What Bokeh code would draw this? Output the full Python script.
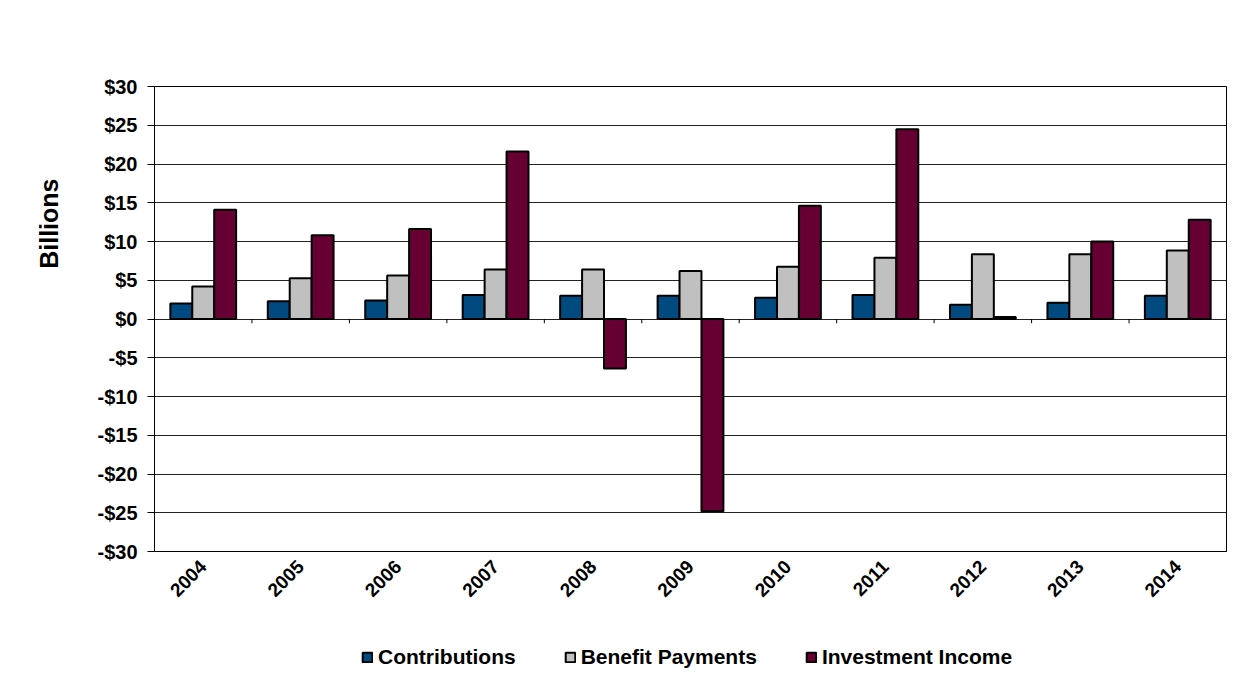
import math
from bokeh.plotting import figure
from bokeh.layouts import column
from bokeh.models import (ColumnDataSource, FactorRange, Range1d, FixedTicker,
                          CustomJSTickFormatter, Legend, LegendItem, Title)
from bokeh.transform import dodge
from bokeh.embed import file_html
from bokeh.resources import INLINE

years = ["2004", "2005", "2006", "2007", "2008", "2009", "2010", "2011", "2012", "2013", "2014"]
contributions = [2.0, 2.3, 2.4, 3.1, 3.0, 3.0, 2.75, 3.1, 1.85, 2.1, 3.0]
benefit_payments = [4.2, 5.25, 5.6, 6.4, 6.4, 6.2, 6.75, 7.9, 8.35, 8.35, 8.85]
investment_income = [14.1, 10.8, 11.6, 21.6, -6.4, -24.8, 14.6, 24.5, 0.25, 10.0, 12.8]
series_names = ["Contributions", "Benefit Payments", "Investment Income"]
series_colors = ["#004A7F", "#C0C0C0", "#660033"]
y_ticks = [-30, -25, -20, -15, -10, -5, 0, 5, 10, 15, 20, 25, 30]

FONT = "Liberation Sans"

src = ColumnDataSource(dict(year=years, c=contributions, b=benefit_payments,
                            i=investment_income, zero=[0] * len(years)))

p = figure(width=1236, height=640, x_range=FactorRange(*years, range_padding=0),
           y_range=Range1d(-30, 30), output_backend="svg", toolbar_location=None,
           min_border_left=154, min_border_top=86, min_border_right=10, min_border_bottom=89,
           background_fill_color="white", border_fill_color="white")

bw = 0.225
for off, col, color in zip([-bw, 0.0, bw], ["c", "b", "i"], series_colors):
    p.vbar(x=dodge("year", off, range=p.x_range), top=col, bottom="zero", width=bw, source=src,
           fill_color=color, line_color="black", line_width=2)

# tick marks on the zero line between categories
tsrc = ColumnDataSource(dict(year=years[:-1], y0=[0] * (len(years) - 1), y1=[-0.55] * (len(years) - 1)))
p.segment(x0=dodge("year", 0.5, range=p.x_range), y0="y0", x1=dodge("year", 0.5, range=p.x_range),
          y1="y1", source=tsrc, line_color="black", line_width=1)

p.outline_line_color = "black"
p.outline_line_width = 1
p.xgrid.grid_line_color = None
p.ygrid.grid_line_color = "#222222"
p.ygrid.grid_line_width = 1
p.ygrid.ticker = FixedTicker(ticks=y_ticks)

p.yaxis.ticker = FixedTicker(ticks=y_ticks)
p.yaxis.formatter = CustomJSTickFormatter(code="return (tick < 0 ? '-$' : '$') + Math.abs(tick);")
p.yaxis.major_label_text_font = FONT
p.yaxis.major_label_text_font_style = "bold"
p.yaxis.major_label_text_font_size = "20px"
p.yaxis.major_label_text_color = "black"
p.yaxis.axis_line_color = "black"
p.yaxis.major_tick_line_color = "black"
p.yaxis.major_tick_out = 7
p.yaxis.major_tick_in = 0
p.yaxis.minor_tick_line_color = None
p.yaxis.major_label_standoff = 10

p.xaxis.major_label_text_font = FONT
p.xaxis.major_label_text_font_style = "bold"
p.xaxis.major_label_text_font_size = "19px"
p.xaxis.major_label_text_color = "black"
p.xaxis.major_label_orientation = math.pi / 4
p.xaxis.axis_line_color = "black"
p.xaxis.major_tick_line_color = None
p.xaxis.minor_tick_line_color = None
p.xaxis.major_label_standoff = 6

ttl = Title(text="Billions", align="right", offset=92, standoff=63, text_font=FONT,
            text_font_style="bold", text_font_size="25px", text_color="black")
p.add_layout(ttl, "left")

# legend strip below the chart (hidden copies of the series provide the legend swatches)
lg = figure(width=1236, height=58, x_range=FactorRange(*years), y_range=Range1d(0, 1),
            output_backend="svg", toolbar_location=None, x_axis_location=None, y_axis_location=None,
            min_border=0, background_fill_color="white", border_fill_color="white")
lg.outline_line_color = None
lg.grid.grid_line_color = None
items = []
for name, col, color in zip(series_names, ["c", "b", "i"], series_colors):
    r = lg.vbar(x="year", top=col, width=0.2, source=src, fill_color=color,
                line_color="black", line_width=2, visible=False)
    items.append(LegendItem(label=name, renderers=[r]))
legend = Legend(items=items, orientation="horizontal", location=(207, 29),
                label_text_font=FONT, label_text_font_style="bold", label_text_font_size="21px",
                label_text_color="black", glyph_width=12, glyph_height=12, label_standoff=5,
                spacing=48, border_line_color=None, background_fill_alpha=0, padding=0, margin=0)
lg.add_layout(legend)

layout = column(p, lg, spacing=0)
open("out.html", "w").write(file_html(layout, INLINE))
